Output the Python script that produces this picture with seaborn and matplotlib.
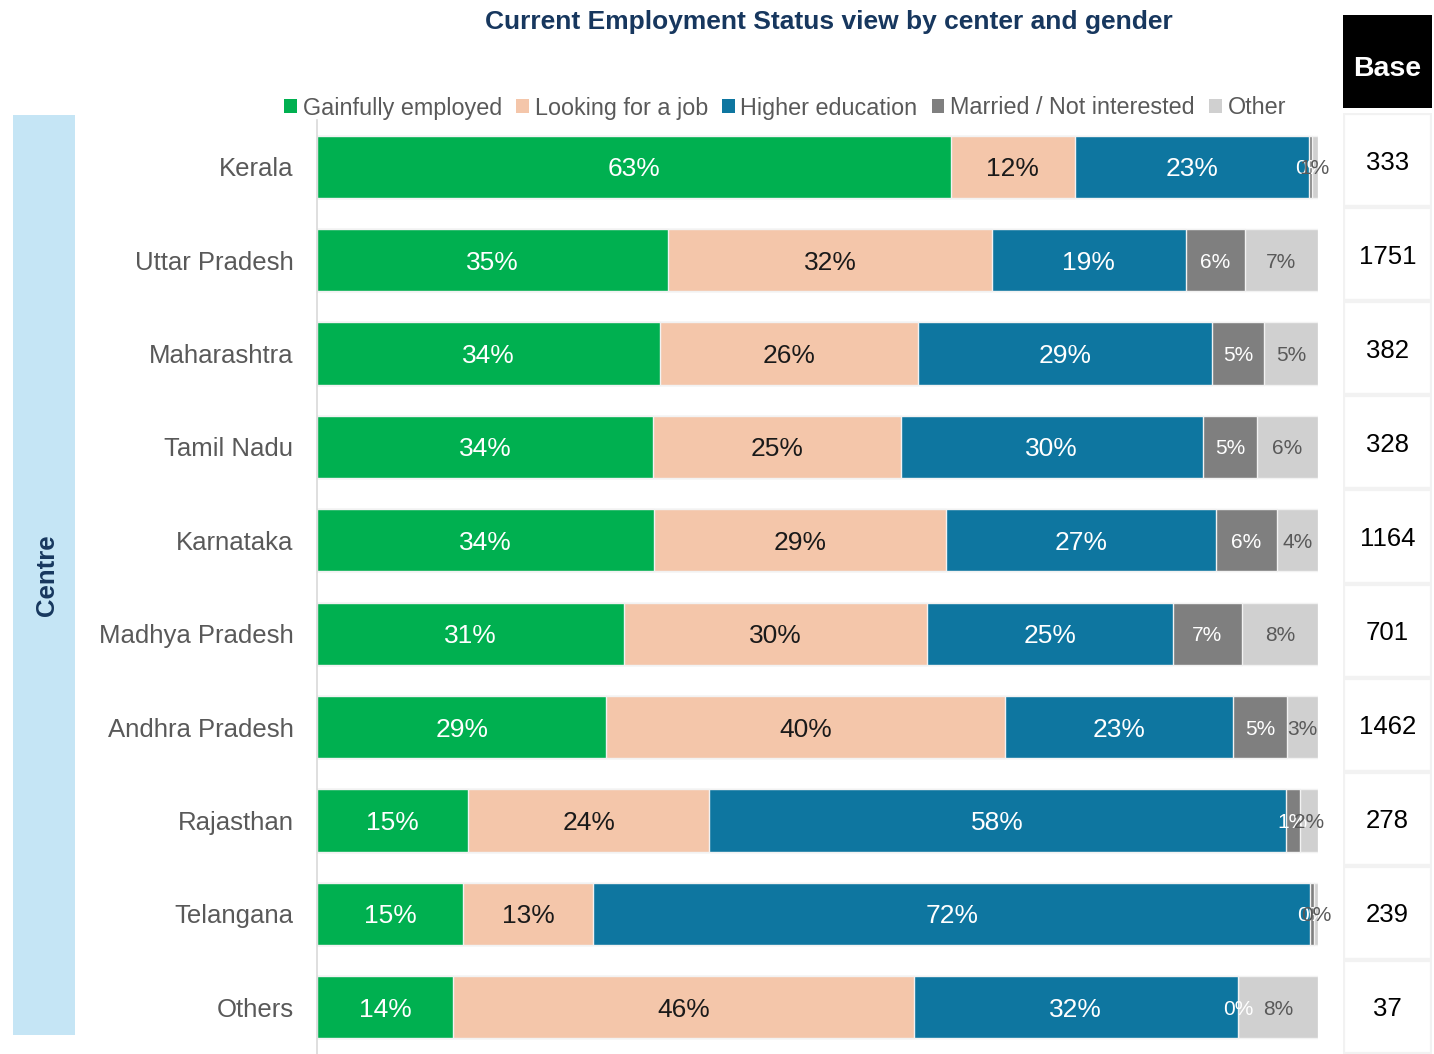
import matplotlib
matplotlib.use("Agg")
import matplotlib.pyplot as plt
from matplotlib.patches import Rectangle, Patch
import seaborn as sns
import numpy as np
import pandas as pd

centres = ["Kerala", "Uttar Pradesh", "Maharashtra", "Tamil Nadu", "Karnataka",
           "Madhya Pradesh", "Andhra Pradesh", "Rajasthan", "Telangana", "Others"]
gainfully_employed = [63.3, 35.1, 34.3, 33.6, 33.7, 30.7, 28.9, 15.1, 14.6, 13.6]
looking_for_job    = [12.4, 32.3, 25.7, 24.7, 29.1, 30.2, 39.8, 24.1, 13.0, 46.0]
higher_education   = [23.4, 19.4, 29.4, 30.2, 27.0, 24.6, 22.8, 57.6, 71.6, 32.4]
married_not_int    = [0.3, 5.9, 5.2, 5.4, 6.1, 6.9, 5.4, 1.4, 0.4, 0.0]
other              = [0.6, 7.3, 5.4, 6.1, 4.1, 7.6, 3.1, 1.8, 0.4, 8.0]
base_counts = [333, 1751, 382, 328, 1164, 701, 1462, 278, 239, 37]

series_names = ["Gainfully employed", "Looking for a job", "Higher education",
                "Married / Not interested", "Other"]
series_values = [gainfully_employed, looking_for_job, higher_education,
                 married_not_int, other]
colors = ["#00B050", "#F4C6AA", "#0E76A0", "#7F7F7F", "#D0D0D0"]
label_colors = ["white", "#1A1A1A", "white", "white", "#595959"]
label_sizes = [19, 19, 19, 15, 15]

FONT = ["Liberation Sans", "DejaVu Sans"]
sns.set_theme(style="white")
plt.rcParams["font.family"] = FONT

W, H = 1434, 1054
fig = plt.figure(figsize=(W / 100, H / 100), dpi=100)

ax = fig.add_axes([317 / W, 0, 1001 / W, (H - 120) / H])

vals = np.array(series_values)
cum = np.cumsum(vals, axis=0)
df = pd.DataFrame({"centre": centres})
for k in reversed(range(len(series_names))):
    df["cum"] = cum[k]
    sns.barplot(data=df, x="cum", y="centre", order=centres, color=colors[k],
                saturation=1, orient="h", width=0.665, ax=ax,
                edgecolor="#F2F2F2", linewidth=1)

for k in range(len(series_names)):
    for i, c in enumerate(centres):
        v = vals[k, i]
        xc = cum[k, i] - v / 2
        ax.text(xc, i, f"{int(round(v))}%", ha="center", va="center_baseline",
                color=label_colors[k], fontsize=label_sizes[k])

ax.set_xlim(0, 100)
ax.set_ylim(9.5, -0.5)
ax.set_xlabel("")
ax.set_ylabel("")
ax.set_xticks([])
ax.tick_params(axis="y", length=0, pad=17, labelsize=18.5, labelcolor="#595959")
for s in ["top", "right", "bottom"]:
    ax.spines[s].set_visible(False)
ax.spines["left"].set_color("#D9D9D9")
ax.spines["left"].set_linewidth(1.2)
ax.set_facecolor("none")

# Base column
bax = fig.add_axes([1343 / W, 0, 89 / W, (H - 113) / H])
bax.set_xlim(0, 1)
bax.set_ylim(9.5, -0.5)
bax.axis("off")
for i, b in enumerate(base_counts):
    bax.add_patch(Rectangle((0, i - 0.5), 1, 1, facecolor="white",
                            edgecolor="#F2F2F2", linewidth=3))
    bax.text(0.5, i, str(b), ha="center", va="center_baseline", fontsize=18.5, color="black")

hax = fig.add_axes([1343 / W, 1 - 108 / H, 89 / W, 93 / H])
hax.set_facecolor("black")
hax.set_xticks([]); hax.set_yticks([])
for s in hax.spines.values():
    s.set_visible(False)
hax.text(0.5, 0.45, "Base", ha="center", va="center_baseline", fontsize=20.5,
         fontweight="bold", color="white", transform=hax.transAxes)

# Centre side label
cax = fig.add_axes([13 / W, 1 - 1035 / H, 62 / W, 920 / H])
cax.set_facecolor("#C5E5F5")
cax.set_xticks([]); cax.set_yticks([])
for s in cax.spines.values():
    s.set_visible(False)
cax.text(0.55, 0.5, "Centre", rotation=90, ha="center", va="center",
         fontsize=18.5, fontweight="bold", color="#17375E", transform=cax.transAxes)

# Title
fig.text(829 / W, 1 - 19 / H, "Current Employment Status view by center and gender",
         ha="center", va="center_baseline", fontsize=19, fontweight="bold", color="#17375E")

# Legend
handles = [Patch(facecolor=c, edgecolor="none", label=n) for c, n in zip(colors, series_names)]
leg = fig.legend(handles=handles, loc="center", bbox_to_anchor=(785 / W, 1 - 108 / H),
                 ncol=5, frameon=False, fontsize=16.8, handlelength=0.55, handleheight=0.55,
                 handletextpad=0.25, columnspacing=0.6, borderaxespad=0)
for t in leg.get_texts():
    t.set_color("#595959")

fig.savefig("out.png", dpi=100)
